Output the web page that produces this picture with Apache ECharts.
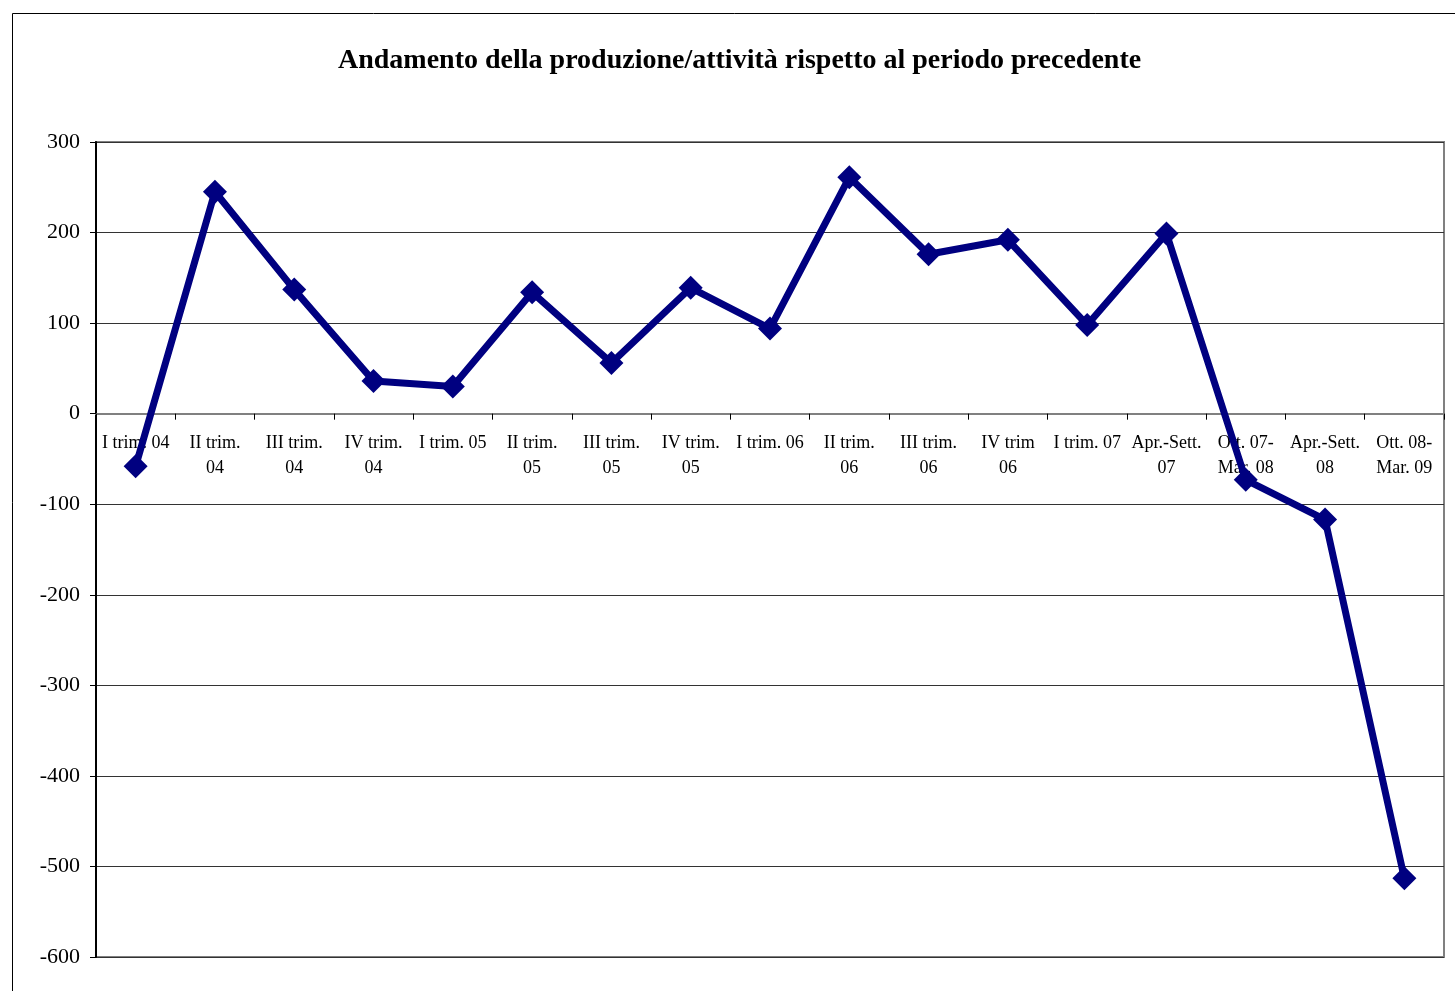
<!DOCTYPE html>
<html>
<head>
<meta charset="utf-8">
<script src="https://cdn.jsdelivr.net/npm/echarts@6/dist/echarts.min.js"></script>
<style>
  html, body { margin: 0; padding: 0; background: #fff; }
  #chart { width: 1455px; height: 991px; }
</style>
</head>
<body>
<div id="chart"></div>
<script>
const titleText = 'Andamento della produzione/attività rispetto al periodo precedente';

const categories = [
  'I trim. 04', 'II trim.\n04', 'III trim.\n04', 'IV trim.\n04',
  'I trim. 05', 'II trim.\n05', 'III trim.\n05', 'IV trim.\n05',
  'I trim. 06', 'II trim.\n06', 'III trim.\n06', 'IV trim\n06',
  'I trim. 07', 'Apr.-Sett.\n07', 'Ott. 07-\nMar. 08', 'Apr.-Sett.\n08',
  'Ott. 08-\nMar. 09'
];

const values = [
  -58, 245, 137, 36, 30, 134, 56, 139, 94, 261, 176, 192, 98, 199, -73, -117, -513
];

const serif = '"Liberation Serif", "DejaVu Serif", serif';

// plot box, in pixels
const gridTop = 142;
const gridBottom = 34;
const plotHeight = 991 - gridTop - gridBottom;
const yMin = -600;
const yMax = 300;
// move the category axis up to the zero line (labels included)
const zeroOffset = -plotHeight * (0 - yMin) / (yMax - yMin);

const chart = echarts.init(document.getElementById('chart'));

chart.setOption({
  animation: false,
  backgroundColor: '#fff',
  title: {
    text: titleText,
    left: 333,
    top: 42,
    textStyle: { fontFamily: serif, fontSize: 28, fontWeight: 'bold', color: '#000' }
  },
  graphic: [
    {
      type: 'rect',
      shape: { x: 12.5, y: 13.5, width: 1500, height: 1100 },
      style: { fill: 'none', stroke: '#000', lineWidth: 1 },
      silent: true
    }
  ],
  grid: {
    left: 96,
    top: gridTop,
    right: 11,
    bottom: gridBottom,
    containLabel: false,
    outerBoundsMode: 'none',
    show: true,
    borderColor: '#808080',
    borderWidth: 2,
    backgroundColor: 'transparent'
  },
  xAxis: {
    type: 'category',
    data: categories,
    boundaryGap: true,
    position: 'bottom',
    offset: zeroOffset,
    axisLine: { onZero: false, lineStyle: { color: '#808080', width: 2 } },
    axisTick: { show: true, length: 6, inside: false, lineStyle: { color: '#000' } },
    axisLabel: {
      interval: 0,
      margin: 17,
      fontFamily: serif,
      fontSize: 18,
      lineHeight: 25,
      color: '#000'
    },
    splitLine: { show: false }
  },
  yAxis: {
    type: 'value',
    min: yMin,
    max: yMax,
    interval: 100,
    axisLine: { show: true, lineStyle: { color: '#000', width: 2 } },
    axisTick: { show: true, length: 6, lineStyle: { color: '#000' } },
    axisLabel: {
      margin: 16,
      fontFamily: serif,
      fontSize: 22,
      color: '#000'
    },
    splitLine: { show: true, lineStyle: { color: '#333', width: 1 } }
  },
  series: [
    {
      type: 'line',
      data: values,
      symbol: 'diamond',
      symbolSize: 24,
      lineStyle: { color: '#000080', width: 7 },
      itemStyle: { color: '#000080' },
      z: 5
    }
  ]
});
</script>
</body>
</html>
